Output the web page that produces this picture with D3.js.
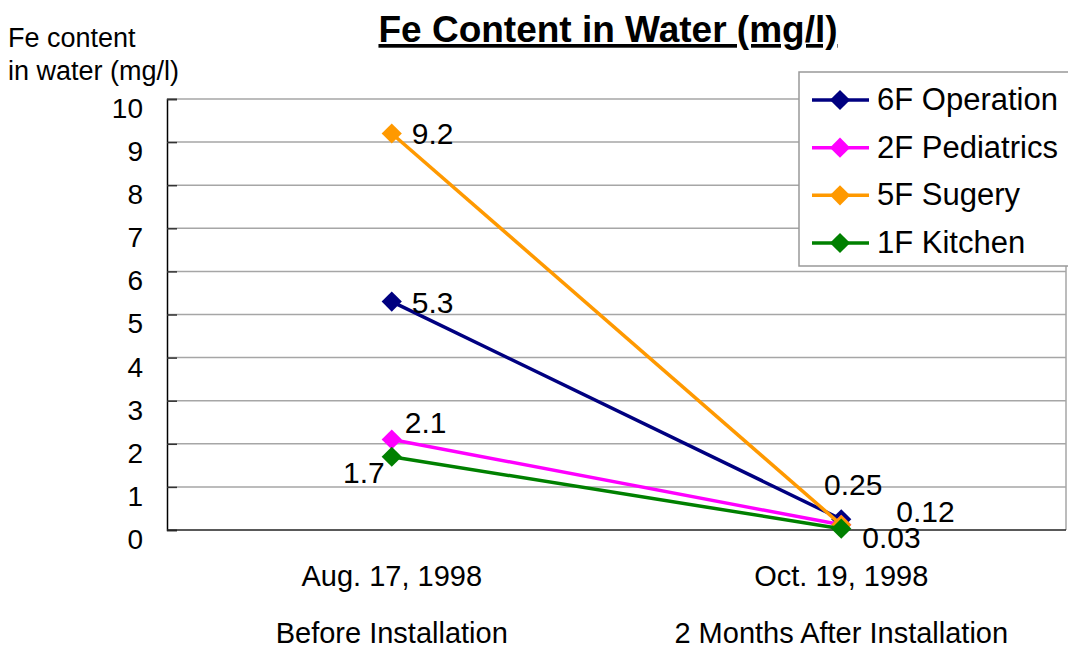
<!DOCTYPE html>
<html>
<head>
<meta charset="utf-8">
<script src="https://cdn.jsdelivr.net/npm/d3@7"></script>
<style>
  body { margin: 0; background: #fff; }
  svg { display: block; font-family: "Liberation Sans", Arial, sans-serif; }
</style>
</head>
<body>
<svg id="chart" width="1068" height="648"></svg>
<script>
const categories = ["Aug. 17, 1998", "Oct. 19, 1998"];
const categoryNotes = ["Before Installation", "2 Months After Installation"];
const seriesNames = ["6F Operation", "2F Pediatrics", "5F Sugery", "1F Kitchen"];
const operation6F = [5.3, 0.25];
const pediatrics2F = [2.1, 0.12];
const surgery5F = [9.2, 0.12];
const kitchen1F = [1.7, 0.03];
const yTicks = [0, 1, 2, 3, 4, 5, 6, 7, 8, 9, 10];

const colors = ["#000080", "#ff00ff", "#ff9900", "#008000"];
// where each value label sits relative to its point
const labelPlace = [
  ["right", "above"],
  ["above-right", "far-right"],
  ["right", "none"],
  ["below-left", "below-right"]
];

const series = [operation6F, pediatrics2F, surgery5F, kitchen1F].map((values, i) => ({
  name: seriesNames[i], values, color: colors[i], place: labelPlace[i]
}));

const svg = d3.select("#chart");
const margin = { left: 167, right: 2, top: 99, bottom: 118 };
const W = 1068, H = 648;

const x = d3.scalePoint().domain(categories).range([margin.left, W - margin.right]).padding(0.5);
const y = d3.scaleLinear().domain([0, 10]).range([H - margin.bottom, margin.top]);

// gridlines
svg.append("g")
  .selectAll("line")
  .data(yTicks.filter(d => d > 0))
  .join("line")
  .attr("x1", margin.left).attr("x2", W - margin.right)
  .attr("y1", d => y(d)).attr("y2", d => y(d))
  .attr("stroke", "#a6a6a6").attr("stroke-width", 1.5);

// right border
svg.append("line")
  .attr("x1", W - margin.right).attr("x2", W - margin.right)
  .attr("y1", margin.top).attr("y2", y(0))
  .attr("stroke", "#a6a6a6").attr("stroke-width", 1.5);

// y axis
const yAxis = svg.append("g")
  .attr("transform", `translate(${margin.left},0)`)
  .call(d3.axisLeft(y).tickValues(yTicks).tickSize(-10).tickPadding(24).tickFormat(d3.format("d")));
yAxis.select(".domain").attr("stroke", "#000").attr("stroke-width", 1.5);
yAxis.selectAll(".tick line").attr("stroke", "#333").attr("stroke-width", 1.5);
yAxis.selectAll(".tick text")
  .attr("font-size", 28).attr("fill", "#000")
  .attr("font-family", "Liberation Sans, Arial, sans-serif")
  .attr("dy", "0.66em");

// x axis baseline
svg.append("line")
  .attr("x1", margin.left).attr("x2", W - margin.right)
  .attr("y1", y(0)).attr("y2", y(0))
  .attr("stroke", "#222").attr("stroke-width", 1.5);

// category labels
svg.append("g").selectAll("text")
  .data(categories)
  .join("text")
  .attr("x", d => x(d)).attr("y", 586)
  .attr("text-anchor", "middle").attr("font-size", 29)
  .text(d => d);

svg.append("g").selectAll("text")
  .data(categoryNotes)
  .join("text")
  .attr("x", (d, i) => x(categories[i])).attr("y", 643)
  .attr("text-anchor", "middle").attr("font-size", 29)
  .text(d => d);

// title
svg.append("text")
  .attr("x", 608).attr("y", 42)
  .attr("text-anchor", "middle")
  .attr("font-size", 37).attr("font-weight", "bold")
  .attr("text-decoration", "underline")
  .text("Fe Content in Water (mg/l)");

// y axis title
const yTitle = svg.append("text").attr("font-size", 27);
yTitle.append("tspan").attr("x", 8).attr("y", 47).text("Fe content");
yTitle.append("tspan").attr("x", 8).attr("y", 80).text("in water (mg/l)");

const line = d3.line()
  .x((d, i) => x(categories[i]))
  .y(d => y(d));

const diamond = d3.symbol().type(d3.symbolDiamond2).size(260);

series.forEach(s => {
  const g = svg.append("g");
  g.append("path")
    .attr("d", line(s.values))
    .attr("fill", "none").attr("stroke", s.color).attr("stroke-width", 3.5);
  g.selectAll("path.m")
    .data(s.values)
    .join("path")
    .attr("class", "m")
    .attr("transform", (d, i) => `translate(${x(categories[i])},${y(d)})`)
    .attr("d", diamond)
    .attr("fill", s.color);
});

const offsets = {
  "right": [20, 11, "start"],
  "far-right": [55, -3, "start"],
  "above": [12, -24, "middle"],
  "above-right": [13, -6, "start"],
  "below-left": [-7, 26, "end"],
  "below-right": [21, 19, "start"]
};

series.forEach(s => {
  s.values.forEach((v, i) => {
    const p = s.place[i];
    if (p === "none") return;
    const [dx, dy, anchor] = offsets[p];
    svg.append("text")
      .attr("x", x(categories[i]) + dx)
      .attr("y", y(v) + dy)
      .attr("text-anchor", anchor)
      .attr("font-size", 30)
      .text(String(v));
  });
});

// legend
const legend = svg.append("g");
legend.append("rect")
  .attr("x", 799).attr("y", 72).attr("width", 280).attr("height", 194)
  .attr("fill", "#fff").attr("stroke", "#999").attr("stroke-width", 1.5);

const ly = d3.scalePoint().domain(seriesNames).range([100, 243]);
seriesNames.forEach((n, i) => {
  const cy = ly(n);
  legend.append("line")
    .attr("x1", 812).attr("x2", 869).attr("y1", cy).attr("y2", cy)
    .attr("stroke", colors[i]).attr("stroke-width", 3.5);
  legend.append("path")
    .attr("transform", `translate(840,${cy})`)
    .attr("d", diamond).attr("fill", colors[i]);
  legend.append("text")
    .attr("x", 877).attr("y", cy + 10)
    .attr("font-size", 31)
    .text(n);
});
</script>
</body>
</html>
